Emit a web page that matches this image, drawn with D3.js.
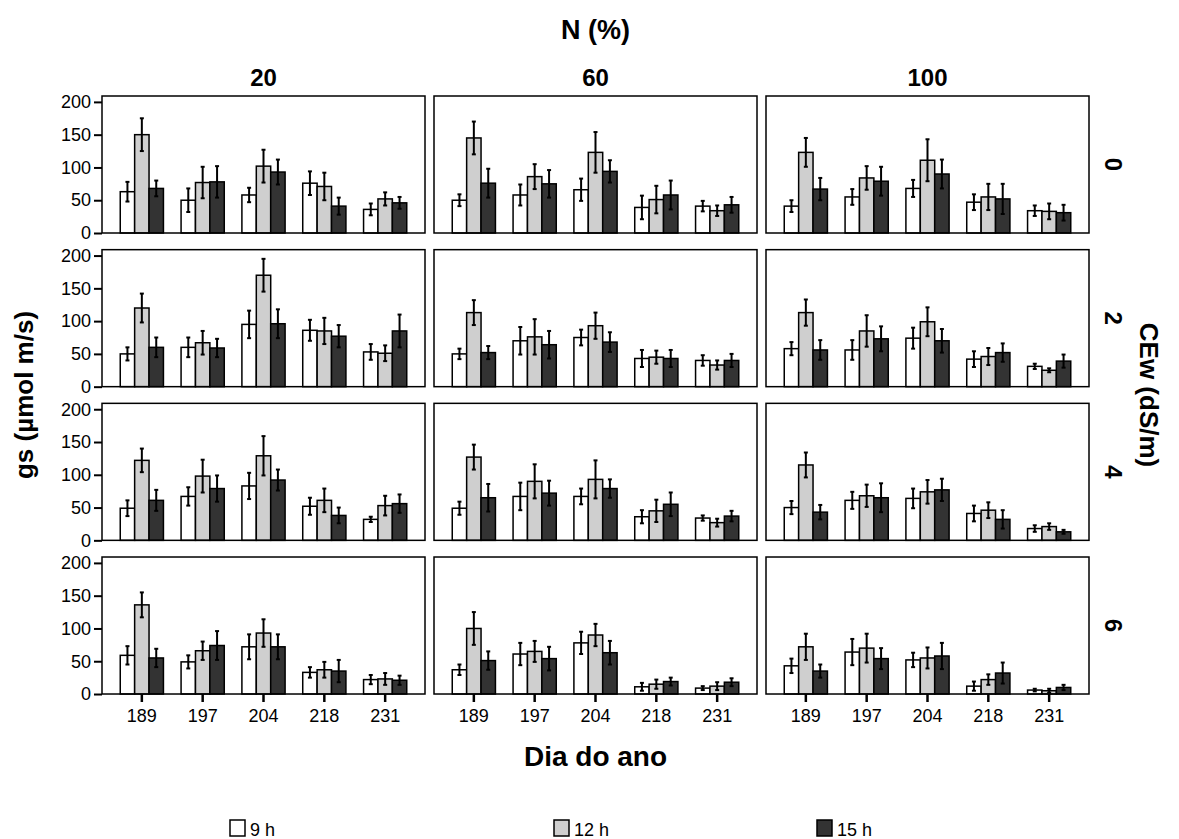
<!DOCTYPE html>
<html>
<head>
<meta charset="utf-8">
<script src="https://cdn.jsdelivr.net/npm/d3@7"></script>
<style>
    body { margin: 0; background: white; }
    text { font-family: Arial, "Liberation Sans", sans-serif; }
</style>
</head>
<body>
<svg id="chart"></svg>
<script>
"use strict";

const days = ["189", "197", "204", "218", "231"];
const n_levels = ["20", "60", "100"];
const ce_levels = ["0", "2", "4", "6"];
const hours = ["9 h", "12 h", "15 h"];
const y_ticks = [0, 50, 100, 150, 200];

// gs means, indexed [CEw row][N column][day]
const mean_9h = [
    [[63, 50, 58, 76, 36], [50, 58, 66, 39, 41], [41, 55, 68, 47, 34]],
    [[50, 60, 95, 86, 53], [50, 70, 75, 43, 40], [58, 56, 74, 42, 31]],
    [[49, 67, 83, 52, 32], [49, 67, 67, 36, 34], [50, 61, 64, 41, 18]],
    [[59, 49, 72, 33, 22], [37, 61, 78, 11, 9], [43, 64, 52, 12, 6]]
];
const mean_12h = [
    [[150, 77, 102, 71, 52], [145, 86, 123, 51, 34], [123, 84, 111, 55, 33]],
    [[120, 67, 170, 85, 51], [113, 76, 93, 45, 33], [113, 85, 99, 46, 25]],
    [[122, 98, 129, 61, 53], [127, 90, 93, 45, 27], [115, 68, 74, 46, 21]],
    [[136, 66, 93, 37, 23], [100, 65, 90, 15, 12], [72, 70, 55, 22, 5]]
];
const mean_15h = [
    [[68, 78, 93, 41, 46], [76, 75, 94, 58, 43], [67, 79, 90, 52, 31]],
    [[60, 59, 96, 77, 85], [52, 64, 68, 43, 40], [56, 73, 70, 52, 39]],
    [[61, 79, 92, 38, 56], [65, 72, 79, 55, 37], [43, 65, 77, 32, 13]],
    [[55, 74, 72, 35, 21], [51, 54, 63, 19, 18], [35, 54, 58, 32, 10]]
];

// half length of the error bars, same indexing
const err_9h = [
    [[15, 18, 11, 18, 9], [9, 16, 17, 18, 8], [9, 12, 13, 12, 8]],
    [[10, 15, 21, 16, 12], [8, 21, 12, 13, 8], [10, 15, 16, 12, 4]],
    [[12, 14, 20, 13, 4], [10, 21, 12, 10, 4], [10, 13, 15, 12, 5]],
    [[14, 10, 19, 8, 7], [8, 17, 17, 6, 3], [11, 20, 11, 7, 2]]
];
const err_12h = [
    [[25, 24, 25, 21, 10], [25, 19, 31, 21, 8], [22, 18, 32, 20, 12]],
    [[22, 18, 25, 20, 12], [19, 27, 20, 10, 7], [20, 24, 22, 13, 3]],
    [[18, 25, 30, 18, 15], [19, 26, 29, 17, 6], [19, 17, 18, 12, 5]],
    [[19, 14, 21, 12, 9], [25, 16, 17, 7, 6], [20, 22, 16, 8, 3]]
];
const err_15h = [
    [[12, 24, 19, 13, 9], [22, 21, 17, 22, 12], [17, 22, 22, 23, 12]],
    [[15, 14, 22, 17, 25], [10, 21, 15, 13, 10], [15, 19, 18, 14, 10]],
    [[16, 20, 16, 12, 14], [21, 19, 14, 18, 8], [11, 22, 17, 14, 3]],
    [[14, 22, 19, 17, 7], [14, 18, 18, 6, 6], [10, 16, 20, 16, 4]]
];

const means = [mean_9h, mean_12h, mean_15h];
const errors = [err_9h, err_12h, err_15h];

const WIDTH = 1179;
const HEIGHT = 839;

// Panel grid layout
const panel = {left: 102, top: 96, width: 323, height: 137, col_step: 332, row_step: 153.67};

const svg = d3.select("#chart")
    .attr("width", WIDTH)
    .attr("height", HEIGHT)
    .style("background-color", "white");

svg.append("rect")
    .attr("width", WIDTH)
    .attr("height", HEIGHT)
    .attr("fill", "white");

const x0 = d3.scaleBand()
    .domain(days)
    .range([0, panel.width])
    .paddingInner(0.29)
    .paddingOuter(0.3);

const x1 = d3.scaleBand()
    .domain(hours)
    .range([0, x0.bandwidth()]);

const y = d3.scaleLinear()
    .domain([0, 209])
    .range([panel.height, 0]);

const fill = d3.scaleOrdinal()
    .domain(hours)
    .range(["#ffffff", "#cfcfcf", "#333333"]);

const y_axis = d3.axisLeft(y).tickValues(y_ticks).tickSize(8).tickPadding(3);
const x_axis = d3.axisBottom(x0).tickSize(8).tickPadding(7);

ce_levels.forEach(function (ce, r) {
    n_levels.forEach(function (n, c) {
        const g = svg.append("g")
            .attr("transform", "translate(" + (panel.left + c * panel.col_step) + "," + (panel.top + r * panel.row_step) + ")");

        var data = [];
        days.forEach(function (day, d) {
            hours.forEach(function (hour, h) {
                data.push({day: day, hour: hour, mean: means[h][r][c][d], err: errors[h][r][c][d]});
            });
        });

        g.selectAll(".bar")
            .data(data)
            .enter()
            .append("rect")
            .attr("class", "bar")
            .attr("x", function (d) { return x0(d.day) + x1(d.hour); })
            .attr("y", function (d) { return y(d.mean); })
            .attr("width", x1.bandwidth())
            .attr("height", function (d) { return y(0) - y(d.mean); })
            .attr("fill", function (d) { return fill(d.hour); })
            .attr("stroke", "#000")
            .attr("stroke-width", 1.5);

        // Error bars with small caps
        const eb = g.selectAll(".err")
            .data(data)
            .enter()
            .append("g")
            .attr("class", "err")
            .attr("transform", function (d) { return "translate(" + (x0(d.day) + x1(d.hour) + x1.bandwidth() / 2) + ",0)"; });

        eb.append("line")
            .attr("y1", function (d) { return y(Math.max(0, d.mean - d.err)); })
            .attr("y2", function (d) { return y(d.mean + d.err); })
            .attr("stroke", "#000")
            .attr("stroke-width", 2);
        eb.append("line")
            .attr("x1", -2).attr("x2", 2)
            .attr("y1", function (d) { return y(d.mean + d.err); })
            .attr("y2", function (d) { return y(d.mean + d.err); })
            .attr("stroke", "#000")
            .attr("stroke-width", 2);
        eb.append("line")
            .attr("x1", -2).attr("x2", 2)
            .attr("y1", function (d) { return y(Math.max(0, d.mean - d.err)); })
            .attr("y2", function (d) { return y(Math.max(0, d.mean - d.err)); })
            .attr("stroke", "#000")
            .attr("stroke-width", 2);

        // Panel frame on top of the bars
        g.append("rect")
            .attr("width", panel.width)
            .attr("height", panel.height)
            .attr("fill", "none")
            .attr("stroke", "#000")
            .attr("stroke-width", 1.5);

        if (c === 0) {
            const ya = g.append("g").call(y_axis);
            ya.select(".domain").remove();
            ya.selectAll("line").attr("stroke-width", 2);
            ya.selectAll("text").attr("font-size", 18).attr("fill", "#000");
        }

        if (r === ce_levels.length - 1) {
            const xa = g.append("g")
                .attr("transform", "translate(0," + panel.height + ")")
                .call(x_axis);
            xa.select(".domain").remove();
            xa.selectAll("line").attr("stroke-width", 2.5);
            xa.selectAll("text").attr("font-size", 18).attr("fill", "#000");
        }

        // Column headers (N) and row labels (CEw)
        if (r === 0) {
            g.append("text")
                .attr("x", panel.width / 2)
                .attr("y", -10)
                .attr("text-anchor", "middle")
                .attr("font-size", 24)
                .attr("font-weight", "bold")
                .text(n);
        }
        if (c === n_levels.length - 1) {
            g.append("text")
                .attr("transform", "translate(" + (panel.width + 16) + "," + (panel.height / 2) + ") rotate(90)")
                .attr("text-anchor", "middle")
                .attr("font-size", 24)
                .attr("font-weight", "bold")
                .text(ce);
        }
    });
});

const grid_right = panel.left + 2 * panel.col_step + panel.width;
const grid_mid_x = (panel.left + grid_right) / 2;
const grid_mid_y = panel.top + (3 * panel.row_step + panel.height) / 2;

svg.append("text")
    .attr("x", grid_mid_x)
    .attr("y", 39)
    .attr("text-anchor", "middle")
    .attr("font-size", 27)
    .attr("font-weight", "bold")
    .text("N (%)");

svg.append("text")
    .attr("x", grid_mid_x)
    .attr("y", 766)
    .attr("text-anchor", "middle")
    .attr("font-size", 28)
    .attr("font-weight", "bold")
    .text("Dia do ano");

svg.append("text")
    .attr("transform", "translate(33," + grid_mid_y + ") rotate(-90)")
    .attr("text-anchor", "middle")
    .attr("font-size", 26)
    .attr("font-weight", "bold")
    .text("gs (µmol m/s)");

svg.append("text")
    .attr("transform", "translate(1140," + grid_mid_y + ") rotate(90)")
    .attr("text-anchor", "middle")
    .attr("font-size", 26)
    .attr("font-weight", "bold")
    .text("CEw (dS/m)");

// Legend along the bottom edge
const legend_x = [230, 554, 817];
const legend = svg.selectAll(".legend")
    .data(hours)
    .enter()
    .append("g")
    .attr("class", "legend")
    .attr("transform", function (d, i) { return "translate(" + legend_x[i] + ",820)"; });

legend.append("rect")
    .attr("width", 15)
    .attr("height", 16)
    .attr("fill", function (d) { return fill(d); })
    .attr("stroke", "#000")
    .attr("stroke-width", 1.5);

legend.append("text")
    .attr("x", 20)
    .attr("y", 16)
    .attr("font-size", 18)
    .attr("fill", "#000")
    .text(function (d) { return d; });
</script>
</body>
</html>
